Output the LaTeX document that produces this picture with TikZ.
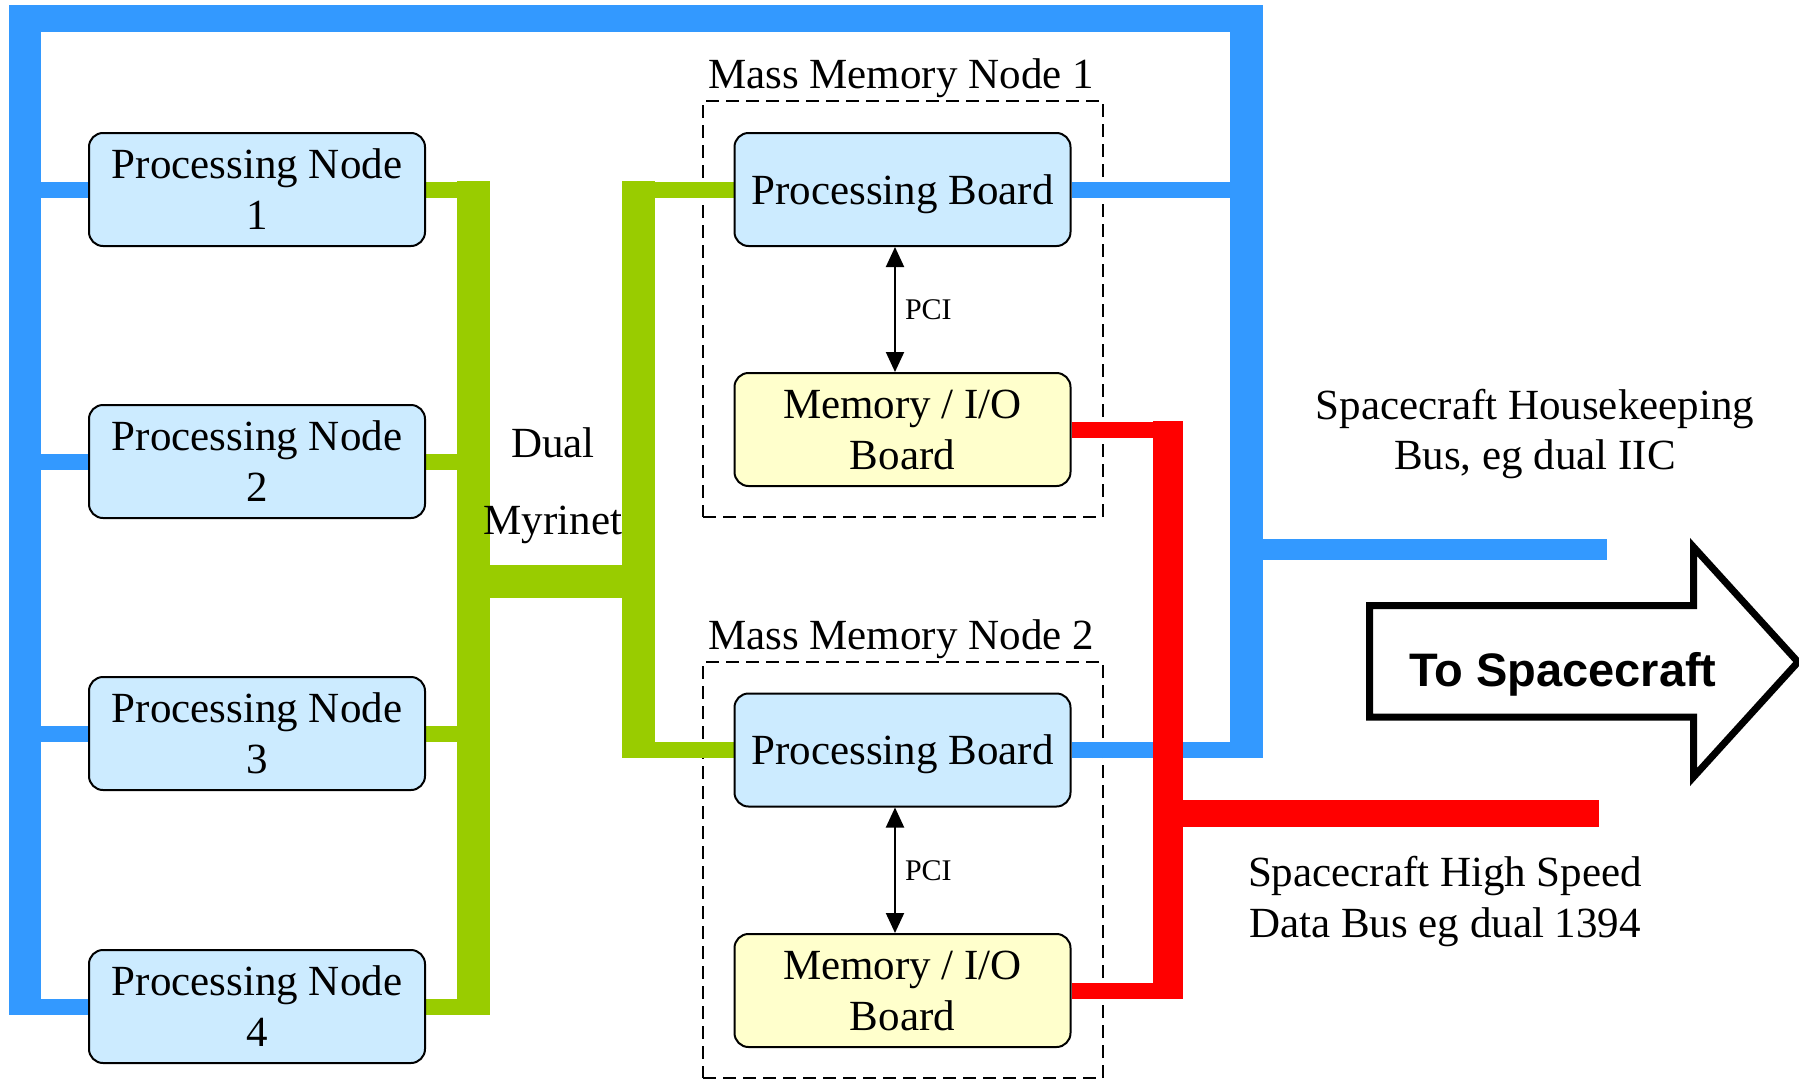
\documentclass[tikz,border=0pt]{standalone}
\usepackage{fontspec}
\setmainfont{Liberation Serif}
\newfontfamily\arialfont{Liberation Sans}
\usetikzlibrary{arrows.meta,backgrounds}
\definecolor{busblue}{HTML}{3399FF}
\definecolor{busgreen}{HTML}{99CC00}
\definecolor{busred}{HTML}{FF0000}
\definecolor{boxblue}{HTML}{CCEBFF}
\definecolor{boxyellow}{HTML}{FFFFCC}
\begin{document}
\begin{tikzpicture}[x=1pt,y=-1pt,
  txt/.style={font=\fontsize{43pt}{51pt}\selectfont},
  board/.style={txt, draw=black, line width=2pt, rounded corners=14pt,
    minimum width=336pt, minimum height=113pt, align=center, inner sep=0pt},
  pboard/.style={board, fill=boxblue},
  mboard/.style={board, fill=boxyellow},
  massbox/.style={draw=black, line width=2pt, dash pattern=on 13pt off 7pt,
    minimum width=400pt, minimum height=416pt, inner sep=0pt},
  freelabel/.style={txt, inner sep=0pt, anchor=base},
  stub/.style={line width=16pt, line cap=butt},
  pci/.style={line width=2pt, {Triangle[length=20pt,width=18pt]}-{Triangle[length=20pt,width=18pt]}},
  pcilabel/.style={font=\fontsize{30pt}{36pt}\selectfont, inner sep=0pt, anchor=west, xshift=9pt},
  tosc/.style={line width=7pt, line join=miter, draw=black, fill=white}
]
\useasboundingbox (0,0) rectangle (1799,1079);

% boards
\node[pboard] (pn1) at (257,189.5) {Processing Node\\1};
\node[pboard] (pn2) at (257,461.5) {Processing Node\\2};
\node[pboard] (pn3) at (257,733.5) {Processing Node\\3};
\node[pboard] (pn4) at (257,1006.5) {Processing Node\\4};
\node[pboard, text depth=0pt] (pb1) at (902.5,189.5) {Processing Board};
\node[mboard] (mio1) at (902.5,429.5) {Memory / I/O\\Board};
\node[pboard, text depth=0pt] (pb2) at (902.5,750) {Processing Board};
\node[mboard] (mio2) at (902.5,990.5) {Memory / I/O\\Board};

\begin{scope}[on background layer]
  \fill[white] (0,0) rectangle (1799,1079);
  \node[massbox] (mmn1) at (903,309) {};
  \node[massbox] (mmn2) at (903,870) {};
  \coordinate (bL) at (25,0);
  \coordinate (bR) at (1246,0);
  \coordinate (gL) at (473,0);
  \coordinate (gR) at (638,0);
  \coordinate (rV) at (1168,0);
  % blue housekeeping bus
  \foreach \nd in {pn1,pn2,pn3,pn4} \draw[stub,busblue] (\nd.west) -- (\nd.west -| bL);
  \draw[stub,busblue] (pb1.east) -- (pb1.east -| bR);
  \draw[stub,busblue] (pb2.east) -- (pb2.east -| bR);
  \fill[busblue] (9,5) rectangle (1263,32);
  \fill[busblue] (9,5) rectangle (41,1015);
  \fill[busblue] (1230,5) rectangle (1263,758);
  \fill[busblue] (1262,539) rectangle (1607,560);
  % green myrinet
  \foreach \nd in {pn1,pn2,pn3,pn4} \draw[stub,busgreen] (\nd.east) -- (\nd.east -| gL);
  \draw[stub,busgreen] (pb1.west) -- (pb1.west -| gR);
  \draw[stub,busgreen] (pb2.west) -- (pb2.west -| gR);
  \fill[busgreen] (457,181) rectangle (490,1015);
  \fill[busgreen] (489,565) rectangle (623,598);
  \fill[busgreen] (622,181) rectangle (655,758);
  % red high speed bus
  \draw[stub,busred] (mio1.east) -- (mio1.east -| rV);
  \draw[stub,busred] (mio2.east) -- (mio2.east -| rV);
  \fill[busred] (1153,421) rectangle (1183,999);
  \fill[busred] (1182,800) rectangle (1599,827);
\end{scope}

% labels
\node[freelabel] (mmn1lab) at (901,88) {Mass Memory Node 1};
\node[freelabel] (mmn2lab) at (901,649) {Mass Memory Node 2};
\node[freelabel] (dual) at (553,457) {Dual};
\node[freelabel] (myri) at (553,534) {Myrinet};
\node[freelabel] (hk1) at (1535,419) {Spacecraft Housekeeping};
\node[freelabel] (hk2) at (1535,469) {Bus, eg dual IIC};
\node[freelabel] (hs1) at (1445,886) {Spacecraft High Speed};
\node[freelabel] (hs2) at (1445,937) {Data Bus eg dual 1394};

% PCI links
\draw[pci] ([xshift=-7.5pt]pb1.south) -- node[pcilabel] (pci1) {PCI} ([xshift=-7.5pt]mio1.north);
\draw[pci] ([xshift=-7.5pt]pb2.south) -- node[pcilabel] (pci2) {PCI} ([xshift=-7.5pt]mio2.north);

% To Spacecraft arrow
\draw[tosc] (1369.5,605.5) -- (1693.5,605.5) -- (1693.5,547) -- (1798,662)
  -- (1693.5,777) -- (1693.5,717) -- (1369.5,717) -- cycle;
\node[inner sep=0pt, anchor=base, font=\arialfont\bfseries\fontsize{47pt}{56pt}\selectfont] (tosctext) at (1563,686) {To Spacecraft};
\end{tikzpicture}
\end{document}
